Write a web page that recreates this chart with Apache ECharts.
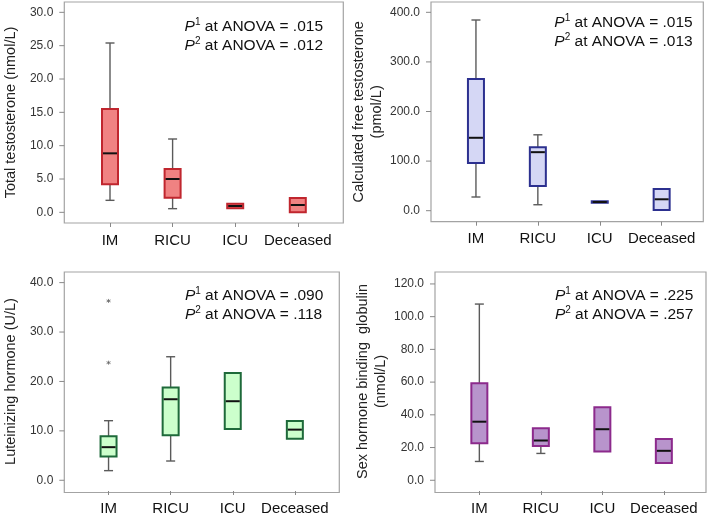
<!DOCTYPE html>
<html>
<head>
<meta charset="utf-8">
<script src="https://cdn.jsdelivr.net/npm/echarts@6/dist/echarts.min.js"></script>
<style>html,body{margin:0;padding:0;background:#fff}#c{width:709px;height:516px}</style>
</head>
<body>
<div id="c"></div>
<script>
// ---------- data ----------
const categories = ['IM', 'RICU', 'ICU', 'Deceased'];

// each row: [min, q1, median, q3, max]
const totalTestosterone = [
  [1.8, 4.2, 8.85, 15.5, 25.4],
  [0.55, 2.2, 5.0, 6.5, 11.0],
  [0.6, 0.6, 0.95, 1.3, 1.3],
  [0.0, 0.0, 1.1, 2.15, 2.15]
];
const freeTestosterone = [
  [27.6, 96, 147, 265.5, 384.5],
  [12, 50, 118, 128, 153],
  [16, 16, 17.5, 19, 19],
  [1.5, 1.5, 23, 43.7, 43.7]
];
const luteinizing = [
  [1.95, 4.8, 6.7, 8.9, 12.06],
  [3.9, 9.1, 16.4, 18.8, 25.0],
  [10.4, 10.4, 16.0, 21.7, 21.7],
  [8.4, 8.4, 10.25, 12.0, 12.0]
];
const shbg = [
  [11.5, 22.7, 35.8, 59.3, 107.7],
  [16.4, 20.9, 24.3, 31.8, 31.8],
  [17.6, 17.6, 31.2, 44.7, 44.7],
  [10.6, 10.6, 18.0, 25.3, 25.3]
];
// outliers: [categoryIndex, value]
const lhOutliers = [[0, 36.3], [0, 23.8]];
const shbgOutliers = [[1, 56.1]];

const ttTicks = [0, 5, 10, 15, 20, 25, 30];
const cftTicks = [0, 100, 200, 300, 400];
const lhTicks = [0, 10, 20, 30, 40];
const shbgTicks = [0, 20, 40, 60, 80, 100, 120];

const pTT = ['.015', '.012'];
const pCFT = ['.015', '.013'];
const pLH = ['.090', '.118'];
const pSHBG = ['.225', '.257'];

// ---------- layout / style ----------
const FONT = '"Liberation Sans", Arial, Helvetica, sans-serif';
const FRAME = '#a3a3a3';
const panels = [
  { data: totalTestosterone, ticks: ttTicks, p: pTT, min: -1.6, max: 31.55,
    frame: { left: 64.3, top: 2, width: 279, height: 221 },
    plot: { left: 78.7, width: 250.4 },
    fill: '#f08282', border: '#c0262e',
    name: 'Total testosterone (nmol/L)', nameGap: 44,
    ann: { right: 386, top: 17 } },
  { data: freeTestosterone, ticks: cftTicks, p: pCFT, min: -22.2, max: 420.8,
    frame: { left: 431, top: 2, width: 272.3, height: 219.7 },
    plot: { left: 445, width: 247.6 },
    fill: '#d5d7f5', border: '#2c308f',
    name: 'Calculated free testosterone\n(pmol/L)', nameGap: 40,
    ann: { right: 16.3, top: 13 } },
  { data: luteinizing, ticks: lhTicks, p: pLH, min: -2.17, max: 42.15, outliers: lhOutliers, outSym: 'star',
    frame: { left: 64.3, top: 272, width: 275, height: 220.5 },
    plot: { left: 77.5, width: 248.4 },
    fill: '#ccffcc', border: '#1e6a3a',
    name: 'Luteinizing hormone (U/L)', nameGap: 44,
    ann: { right: 385.7, top: 286 } },
  { data: shbg, ticks: shbgTicks, p: pSHBG, min: -6.56, max: 127.3, outliers: shbgOutliers, outSym: 'circle',
    frame: { left: 435, top: 272, width: 271, height: 220.5 },
    plot: { left: 448.6, width: 246 },
    fill: '#b894cc', border: '#8c2a8c',
    name: 'Sex hormone binding  globulin\n(nmol/L)', nameGap: 41,
    ann: { right: 15.7, top: 286 } }
];

const grid = [], xAxis = [], yAxis = [], series = [], title = [];

panels.forEach((pn, i) => {
  const fi = grid.length;
  grid.push({ left: pn.frame.left, top: pn.frame.top, width: pn.frame.width, height: pn.frame.height,
    show: true, borderColor: FRAME, borderWidth: 1.2, backgroundColor: 'transparent' });
  xAxis.push({ gridIndex: fi, type: 'value', show: false });
  yAxis.push({ gridIndex: fi, type: 'value', show: false });

  const di = grid.length;
  const off = pn.plot.left - pn.frame.left;
  grid.push({ left: pn.plot.left, top: pn.frame.top, width: pn.plot.width, height: pn.frame.height, show: false });
  xAxis.push({
    gridIndex: di, type: 'category', data: categories, boundaryGap: true, position: 'bottom',
    axisLine: { show: false, onZero: false },
    axisTick: { show: true, alignWithLabel: true, interval: 0, length: 4, lineStyle: { color: '#888', width: 1 } },
    axisLabel: { interval: 0, fontSize: 15, color: '#111', margin: 10, fontFamily: FONT }
  });
  yAxis.push({
    gridIndex: di, type: 'value', min: pn.min, max: pn.max, position: 'left',
    offset: off,
    axisLine: { show: false, onZero: false },
    splitLine: { show: false },
    axisTick: { show: false },
    axisLabel: { customValues: pn.ticks, formatter: v => v.toFixed(1), fontSize: 12, color: '#333', margin: 11, fontFamily: FONT },
    name: pn.name, nameLocation: 'middle', nameGap: pn.nameGap, nameRotate: 90,
    nameTextStyle: { fontSize: 14.5, color: '#222', fontFamily: FONT, lineHeight: 18 }
  });

  // y-axis tick marks, placed through the value axis scale
  series.push({
    type: 'custom', xAxisIndex: di, yAxisIndex: di, silent: true, clip: false,
    data: pn.ticks.map(v => [0, v]),
    encode: { x: 0, y: 1 },
    renderItem: (params, api) => {
      const yy = api.coord([0, api.value(1)])[1];
      const x0 = params.coordSys.x - off;
      return { type: 'line', shape: { x1: x0 - 5, y1: yy, x2: x0, y2: yy },
        style: { stroke: '#888', lineWidth: 1 } };
    },
    z: 2
  });

  const rows = pn.data.map((r, k) => [k].concat(r));
  series.push({
    type: 'custom', xAxisIndex: di, yAxisIndex: di,
    data: rows,
    encode: { x: 0, y: [1, 2, 3, 4, 5] },
    renderItem: (params, api) => {
      const idx = api.value(0);
      const cx = api.coord([idx, 0])[0];
      const y = k => api.coord([idx, api.value(k)])[1];
      const yMin = y(1), yQ1 = y(2), yMed = y(3), yQ3 = y(4), yMax = y(5);
      const bw = 16, cw = 9;
      const wStyle = { stroke: '#5a5a5a', lineWidth: 1.4 };
      const ch = [];
      if (api.value(5) > api.value(4)) {
        ch.push({ type: 'line', shape: { x1: cx, y1: yQ3, x2: cx, y2: yMax }, style: wStyle });
        ch.push({ type: 'line', shape: { x1: cx - cw / 2, y1: yMax, x2: cx + cw / 2, y2: yMax }, style: wStyle });
      }
      if (api.value(1) < api.value(2)) {
        ch.push({ type: 'line', shape: { x1: cx, y1: yQ1, x2: cx, y2: yMin }, style: wStyle });
        ch.push({ type: 'line', shape: { x1: cx - cw / 2, y1: yMin, x2: cx + cw / 2, y2: yMin }, style: wStyle });
      }
      ch.push({ type: 'rect', shape: { x: cx - bw / 2, y: yQ3, width: bw, height: yQ1 - yQ3 },
        style: { fill: pn.fill, stroke: pn.border, lineWidth: 2 } });
      ch.push({ type: 'line', shape: { x1: cx - bw / 2 + 1, y1: yMed, x2: cx + bw / 2 - 1, y2: yMed },
        style: { stroke: '#111', lineWidth: 2 } });
      return { type: 'group', children: ch };
    },
    z: 3
  });

  if (pn.outliers) {
    series.push({
      type: 'scatter', xAxisIndex: di, yAxisIndex: di, data: pn.outliers,
      symbol: pn.outSym === 'star' ? 'path://M5 0L5 10M0.7 2.5L9.3 7.5M0.7 7.5L9.3 2.5' : 'emptyCircle',
      symbolSize: pn.outSym === 'star' ? 4 : 5,
      itemStyle: pn.outSym === 'star'
        ? { color: 'none', borderColor: '#666', borderWidth: 1 }
        : { color: '#fff', borderColor: '#777', borderWidth: 1 },
      silent: true, z: 4
    });
  }

  title.push({
    text: '{i|P}{s|1} at ANOVA = ' + pn.p[0] + '\n{i|P}{s|2} at ANOVA = ' + pn.p[1],
    right: pn.ann.right, top: pn.ann.top, padding: 0,
    textStyle: {
      fontSize: 15.5, fontWeight: 'normal', color: '#111', fontFamily: FONT, lineHeight: 19,
      rich: {
        i: { fontStyle: 'italic', fontSize: 15.5, color: '#111', fontFamily: FONT, lineHeight: 19 },
        s: { fontSize: 10, color: '#111', fontFamily: FONT, verticalAlign: 'top', lineHeight: 12 }
      }
    }
  });
});

const chart = echarts.init(document.getElementById('c'), null, { renderer: 'canvas' });
chart.setOption({ animation: false, backgroundColor: '#fff', title, grid, xAxis, yAxis, series });
</script>
</body>
</html>
